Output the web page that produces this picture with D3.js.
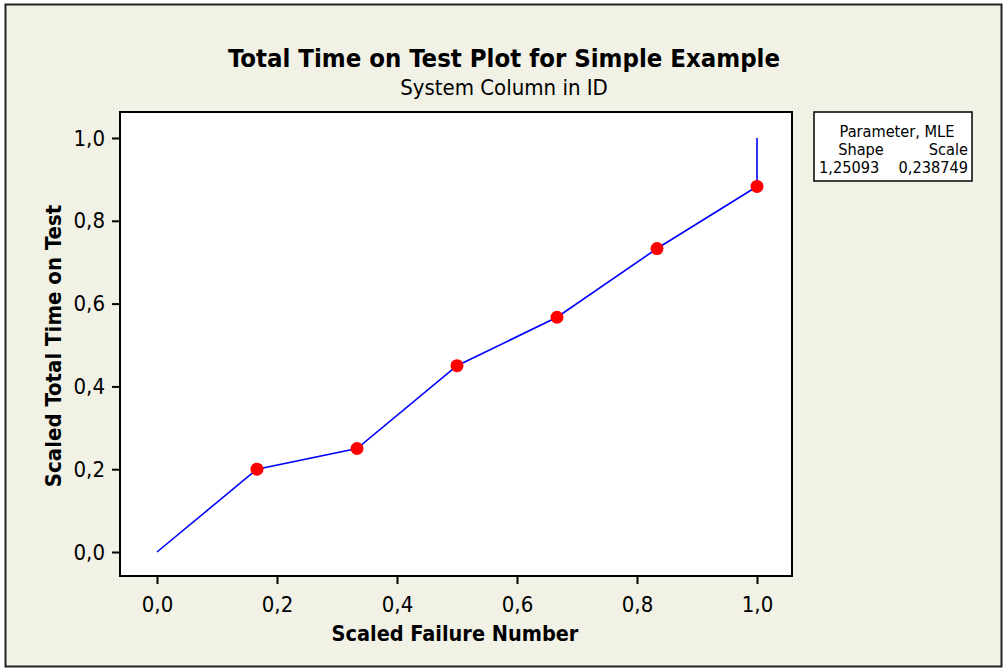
<!DOCTYPE html>
<html><head><meta charset="utf-8">
<script src="https://cdn.jsdelivr.net/npm/d3@7"></script>
<style>body{margin:0;background:#fff}svg{display:block}</style>
</head><body>
<script>
const xValues = [0, 1/6, 2/6, 3/6, 4/6, 5/6, 1];
const yValues = [0, 0.2, 0.25, 0.45, 0.567, 0.733, 0.883];
const endTop = 1.0;
const tickValues = [0, 0.2, 0.4, 0.6, 0.8, 1.0];
const tickLabels = ["0,0", "0,2", "0,4", "0,6", "0,8", "1,0"];
const legendLines = ["Parameter, MLE"];
const legendHeads = ["Shape", "Scale"];
const legendVals = ["1,25093", "0,238749"];

const W = 1003, H = 668;
const svg = d3.select("body").append("svg").attr("width", W).attr("height", H);
const F = "'DejaVu Sans Condensed', 'DejaVu Sans', sans-serif";

svg.append("rect").attr("x", 0).attr("y", 0).attr("width", W).attr("height", H).attr("fill", "#ffffff");
svg.append("rect").attr("x", 5.5).attr("y", 4.5).attr("width", 996).attr("height", 662)
  .attr("fill", "#f2f1e6").attr("stroke", "#222").attr("stroke-width", 2);

const pl = 120, pt = 112, pr = 792, pb = 576;
const x = d3.scaleLinear().domain([0, 1]).range([157, 757]);
const y = d3.scaleLinear().domain([0, 1]).range([552, 138]);

svg.append("rect").attr("x", pl).attr("y", pt).attr("width", pr - pl).attr("height", pb - pt)
  .attr("fill", "#fff").attr("stroke", "#000").attr("stroke-width", 2);

const fmt = d => tickLabels[tickValues.findIndex(v => Math.abs(v - d) < 1e-9)];
const gx = svg.append("g").attr("transform", `translate(0,${pb})`)
  .call(d3.axisBottom(x).tickValues(tickValues).tickFormat(fmt).tickSize(8).tickPadding(12));
const gy = svg.append("g").attr("transform", `translate(${pl},0)`)
  .call(d3.axisLeft(y).tickValues(tickValues).tickFormat(fmt).tickSize(8).tickPadding(7));
[gx, gy].forEach(g => {
  g.select(".domain").remove();
  g.selectAll(".tick line").attr("stroke", "#000").attr("stroke-width", 2);
  g.selectAll(".tick text").attr("font-family", F).attr("font-size", 22).attr("fill", "#000");
});

const pts = xValues.map((v, i) => [v, yValues[i]]);
const line = d3.line().x(d => x(d[0])).y(d => y(d[1]));
svg.append("path").datum(pts.concat([[1, endTop]])).attr("d", line)
  .attr("fill", "none").attr("stroke", "#0000ff").attr("stroke-width", 1.6);
svg.selectAll("circle.p").data(pts.slice(1)).enter().append("circle")
  .attr("cx", d => x(d[0])).attr("cy", d => y(d[1])).attr("r", 6.5).attr("fill", "#ff0000");

svg.append("text").attr("x", 504).attr("y", 67).attr("text-anchor", "middle")
  .attr("font-family", F).attr("font-weight", "bold").attr("font-size", 25.5).text("Total Time on Test Plot for Simple Example");
svg.append("text").attr("x", 504).attr("y", 95).attr("text-anchor", "middle")
  .attr("font-family", F).attr("font-size", 22).text("System Column in ID");
svg.append("text").attr("x", 455).attr("y", 641).attr("text-anchor", "middle")
  .attr("font-family", F).attr("font-weight", "bold").attr("font-size", 21.5).text("Scaled Failure Number");
svg.append("text").attr("transform", "translate(61,346) rotate(-90)").attr("text-anchor", "middle")
  .attr("font-family", F).attr("font-weight", "bold").attr("font-size", 22).text("Scaled Total Time on Test");

const lg = svg.append("g");
const LF = 16.2;
lg.append("rect").attr("x", 814).attr("y", 112).attr("width", 158).attr("height", 69)
  .attr("fill", "#fff").attr("stroke", "#000").attr("stroke-width", 1.5);
lg.append("text").attr("x", 897).attr("y", 137).attr("text-anchor", "middle")
  .attr("font-family", F).attr("font-size", LF).text(legendLines[0]);
lg.append("text").attr("x", 861).attr("y", 155).attr("text-anchor", "middle")
  .attr("font-family", F).attr("font-size", LF).text(legendHeads[0]);
lg.append("text").attr("x", 968).attr("y", 155).attr("text-anchor", "end")
  .attr("font-family", F).attr("font-size", LF).text(legendHeads[1]);
lg.append("text").attr("x", 819).attr("y", 173).attr("text-anchor", "start")
  .attr("font-family", F).attr("font-size", LF).text(legendVals[0]);
lg.append("text").attr("x", 968).attr("y", 173).attr("text-anchor", "end")
  .attr("font-family", F).attr("font-size", LF).text(legendVals[1]);
</script>
</body></html>
